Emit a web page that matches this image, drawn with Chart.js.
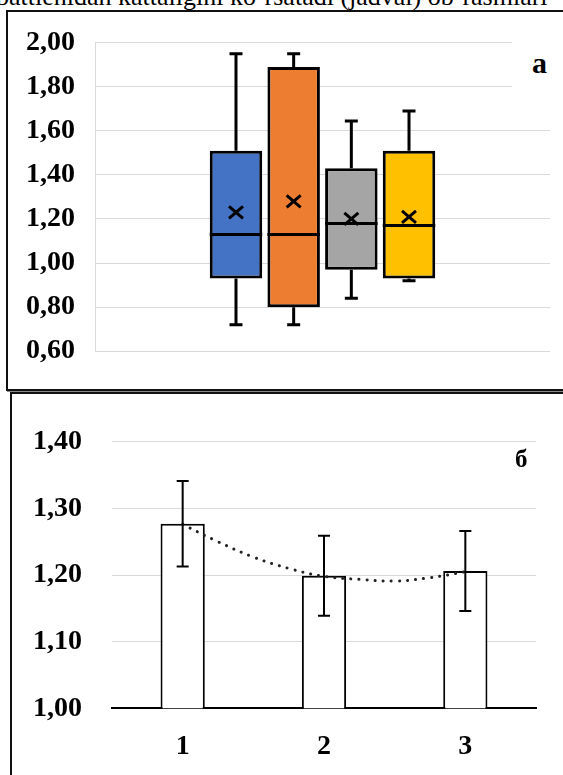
<!DOCTYPE html>
<html>
<head>
<meta charset="utf-8">
<script src="https://cdn.jsdelivr.net/npm/chart.js@4.4.1/dist/chart.umd.min.js"></script>
<style>
  html, body { margin:0; padding:0; background:#fff; width:563px; height:775px; overflow:hidden; position:relative;
    font-family:"Liberation Serif","Times New Roman",serif; }
  #caption { position:absolute; left:-4px; top:-16px; font-size:26px; line-height:26px; white-space:nowrap; color:#000; }
  #panelA { position:absolute; left:6px; top:10px; width:620px; height:377px; border:2px solid #111; box-shadow:1px 1px 0 #888; }
  #panelB { position:absolute; left:10px; top:392px; width:620px; height:420px; border-top:2px solid #111; border-left:2px solid #111; }
  canvas { position:absolute; }
  #chartA { left:0; top:0; }
  #chartB { left:0; top:395px; }
  #coverA { position:absolute; left:512px; top:30px; width:60px; height:80px; background:#fff; }
  .tag { position:absolute; font-weight:bold; color:#000; white-space:nowrap; }
  #tagA { left:532px; top:48px; font-size:30px; line-height:30px; }
  #tagB { left:515px; top:446px; font-size:25px; line-height:25px; }
</style>
</head>
<body>
<div id="caption">battienidan kattaligini ko‘rsatadi (jadval) ob-rasmlari</div>
<div id="panelA"></div>
<div id="panelB"></div>
<canvas id="chartA" width="563" height="388"></canvas>
<canvas id="chartB" width="563" height="380"></canvas>
<div id="coverA"></div>
<div class="tag" id="tagA">a</div>
<div class="tag" id="tagB">б</div>
<script>
// ---------- Panel a: box plot data ----------
const boxSeries   = ['1', '2', '3', '4'];
const boxMin      = [0.72, 0.72, 0.84, 0.92];
const boxQ1       = [0.93, 0.80, 0.97, 0.93];
const boxMedian   = [1.13, 1.13, 1.18, 1.17];
const boxQ3       = [1.51, 1.89, 1.43, 1.51];
const boxMax      = [1.95, 1.95, 1.645, 1.69];
const boxMean     = [1.23, 1.28, 1.20, 1.21];
const boxColors   = ['#4472C4', '#ED7D31', '#A5A5A5', '#FFC000'];
const yTicksA     = ['0,60', '0,80', '1,00', '1,20', '1,40', '1,60', '1,80', '2,00'];

// ---------- Panel б: bar chart data ----------
const barCategories = ['1', '2', '3'];
const barValues     = [1.277, 1.199, 1.206];
const barErrors     = [0.064, 0.060, 0.060];
const yTicksB       = ['1,00', '1,10', '1,20', '1,30', '1,40'];
const trendX        = [1.0, 1.25, 1.5, 1.75, 2.0, 2.25, 2.5, 2.75, 3.0];
const trendY        = [1.276, 1.250, 1.227, 1.210, 1.198, 1.1935, 1.191, 1.196, 1.205];

const serif = '"Liberation Serif", "Times New Roman", serif';

// Plugin: whiskers, medians, means for the box plot
const boxExtras = {
  id: 'boxExtras',
  afterDatasetsDraw(chart) {
    const ctx = chart.ctx, y = chart.scales.y;
    ctx.save();
    ctx.strokeStyle = '#000';
    ctx.lineWidth = 3;
    ctx.lineCap = 'butt';
    boxSeries.forEach((s, i) => {
      const bar = chart.getDatasetMeta(i).data[0];
      const x = bar.x, w = bar.width, cap = 6.5;
      const pQ1 = y.getPixelForValue(boxQ1[i]), pQ3 = y.getPixelForValue(boxQ3[i]);
      const pMin = y.getPixelForValue(boxMin[i]), pMax = y.getPixelForValue(boxMax[i]);
      const pMed = y.getPixelForValue(boxMedian[i]), pMean = y.getPixelForValue(boxMean[i]);
      ctx.beginPath();
      ctx.moveTo(x, pQ3); ctx.lineTo(x, pMax);
      ctx.moveTo(x - cap, pMax); ctx.lineTo(x + cap, pMax);
      ctx.moveTo(x, pQ1); ctx.lineTo(x, pMin);
      ctx.moveTo(x - cap, pMin); ctx.lineTo(x + cap, pMin);
      ctx.moveTo(x - w / 2, pMed); ctx.lineTo(x + w / 2, pMed);
      ctx.stroke();
      ctx.beginPath();
      ctx.moveTo(x - 7, pMean - 6); ctx.lineTo(x + 7, pMean + 6);
      ctx.moveTo(x + 7, pMean - 6); ctx.lineTo(x - 7, pMean + 6);
      ctx.stroke();
    });
    ctx.restore();
  }
};

new Chart(document.getElementById('chartA'), {
  type: 'bar',
  data: {
    labels: [''],
    datasets: boxSeries.map((s, i) => ({
      label: s,
      data: [[boxQ1[i], boxQ3[i]]],
      backgroundColor: boxColors[i],
      borderColor: '#000',
      borderWidth: 3,
      borderSkipped: false,
      categoryPercentage: 0.507,
      barPercentage: 0.91
    }))
  },
  options: {
    responsive: false,
    animation: false,
    layout: { padding: { left: 0, top: 42.7, right: 13, bottom: 30 } },
    plugins: { legend: { display: false }, tooltip: { enabled: false } },
    scales: {
      x: { type: 'category', display: false },
      y: {
        min: 0.6, max: 2.0,
        ticks: {
          stepSize: 0.2, padding: 20, color: '#000',
          font: { family: serif, size: 28, weight: 'bold' },
          callback: (v, i) => yTicksA[i] !== undefined ? yTicksA[i] : v.toFixed(2).replace('.', ',')
        },
        grid: { color: '#d9d9d9', lineWidth: 1, drawTicks: false },
        border: { display: true, color: '#d9d9d9', width: 1 },
        afterFit: (axis) => { axis.width = 95; }
      }
    }
  },
  plugins: [boxExtras]
});

// Plugin: error bars
const errorBars = {
  id: 'errorBars',
  afterDatasetsDraw(chart) {
    const ctx = chart.ctx, y = chart.scales.y;
    const meta = chart.getDatasetMeta(1);
    ctx.save();
    ctx.strokeStyle = '#000';
    ctx.lineWidth = 2;
    meta.data.forEach((bar, i) => {
      const x = bar.x, cap = 6;
      const pHi = y.getPixelForValue(barValues[i] + barErrors[i]);
      const pLo = y.getPixelForValue(barValues[i] - barErrors[i]);
      ctx.beginPath();
      ctx.moveTo(x, pHi); ctx.lineTo(x, pLo);
      ctx.moveTo(x - cap, pHi); ctx.lineTo(x + cap, pHi);
      ctx.moveTo(x - cap, pLo); ctx.lineTo(x + cap, pLo);
      ctx.stroke();
    });
    ctx.restore();
  }
};

new Chart(document.getElementById('chartB'), {
  type: 'bar',
  data: {
    labels: barCategories,
    datasets: [
      {
        type: 'line',
        label: 'trend',
        xAxisID: 'xt',
        data: trendX.map((x, i) => ({ x: x, y: trendY[i] })),
        borderColor: '#222',
        borderWidth: 3,
        borderDash: [0.1, 8],
        borderCapStyle: 'round',
        pointRadius: 0,
        tension: 0.4,
        fill: false,
        order: 0
      },
      {
        label: 'values',
        data: barValues,
        backgroundColor: '#fff',
        borderColor: '#000',
        borderWidth: 2,
        borderSkipped: 'start',
        grouped: false,
        categoryPercentage: 1,
        barPercentage: 0.313,
        order: 1
      }
    ]
  },
  options: {
    responsive: false,
    animation: false,
    layout: { padding: { left: 0, top: 30.7, right: 27, bottom: 0 } },
    plugins: { legend: { display: false }, tooltip: { enabled: false } },
    scales: {
      x: {
        type: 'category',
        z: 1,
        ticks: { color: '#000', padding: 22, font: { family: serif, size: 28, weight: 'bold' } },
        grid: { display: false, drawTicks: false },
        border: { display: true, color: '#000', width: 2 },
        afterFit: (axis) => { axis.height = 66.7; }
      },
      xt: { type: 'linear', display: false, offset: false, min: 0.5, max: 3.5 },
      y: {
        min: 1.0, max: 1.4,
        ticks: {
          stepSize: 0.1, padding: 30, color: '#000',
          font: { family: serif, size: 28, weight: 'bold' },
          callback: (v, i) => yTicksB[i] !== undefined ? yTicksB[i] : v.toFixed(2).replace('.', ',')
        },
        grid: { color: '#d9d9d9', lineWidth: 1, drawTicks: false },
        border: { display: false },
        afterFit: (axis) => { axis.width = 112; }
      }
    }
  },
  plugins: [errorBars]
});
</script>
</body>
</html>
